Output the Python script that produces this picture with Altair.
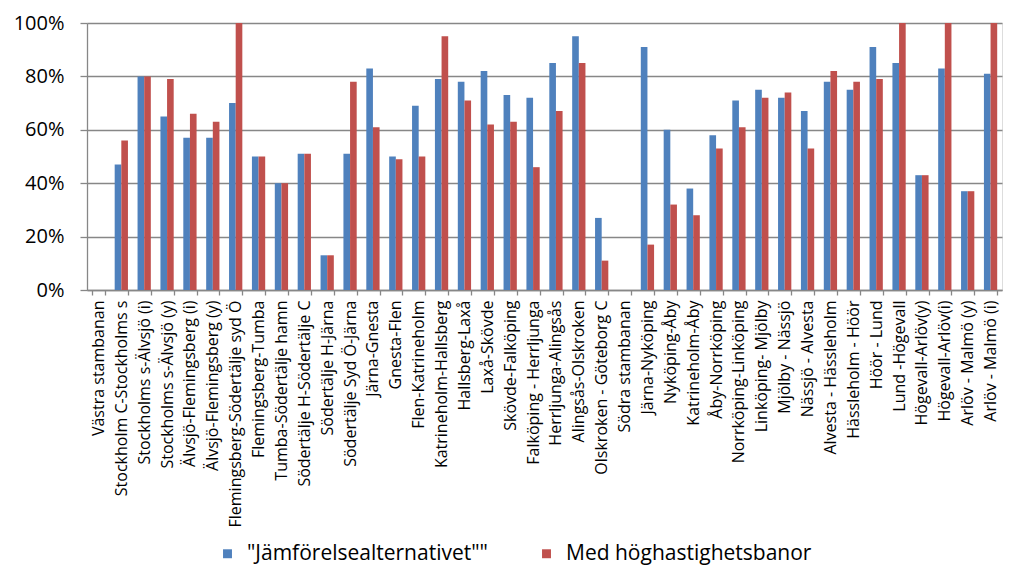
import altair as alt
import pandas as pd

categories = [
    "Västra stambanan", "Stockholm C-Stockholms s", "Stockholms s-Älvsjö (i)",
    "Stockholms s-Älvsjö (y)", "Älvsjö-Flemingsberg (i)", "Älvsjö-Flemingsberg (y)",
    "Flemingsberg-Södertälje syd Ö", "Flemingsberg-Tumba", "Tumba-Södertälje hamn",
    "Södertälje H-Södertälje C", "Södertälje H-Järna", "Södertälje Syd Ö-Järna",
    "Järna-Gnesta", "Gnesta-Flen", "Flen-Katrineholm", "Katrineholm-Hallsberg",
    "Hallsberg-Laxå", "Laxå-Skövde", "Skövde-Falköping", "Falköping - Herrljunga",
    "Herrljunga-Alingsås", "Alingsås-Olskroken", "Olskroken - Göteborg C",
    "Södra stambanan", "Järna-Nyköping", "Nyköping-Åby", "Katrineholm-Åby",
    "Åby-Norrköping", "Norrköping-Linköping", "Linköping- Mjölby", "Mjölby - Nässjö",
    "Nässjö - Alvesta", "Alvesta - Hässleholm", "Hässleholm - Höör", "Höör - Lund",
    "Lund -Högevall", "Högevall-Arlöv(y)", "Högevall-Arlöv(i)", "Arlöv - Malmö (y)",
    "Arlöv - Malmö (i)",
]

series_names = ['"Jämförelsealternativet""', "Med höghastighetsbanor"]

jamforelse = [
    None, 0.47, 0.80, 0.65, 0.57, 0.57, 0.70, 0.50, 0.40, 0.51,
    0.13, 0.51, 0.83, 0.50, 0.69, 0.79, 0.78, 0.82, 0.73, 0.72,
    0.85, 0.95, 0.27, None, 0.91, 0.60, 0.38, 0.58, 0.71, 0.75,
    0.72, 0.67, 0.78, 0.75, 0.91, 0.85, 0.43, 0.83, 0.37, 0.81,
]

hoghastighet = [
    None, 0.56, 0.80, 0.79, 0.66, 0.63, 1.00, 0.50, 0.40, 0.51,
    0.13, 0.78, 0.61, 0.49, 0.50, 0.95, 0.71, 0.62, 0.63, 0.46,
    0.67, 0.85, 0.11, None, 0.17, 0.32, 0.28, 0.53, 0.61, 0.72,
    0.74, 0.53, 0.82, 0.78, 0.79, 1.00, 0.43, 1.00, 0.37, 1.00,
]

colors = ["#4F81BD", "#C0504D"]

rows = []
for c, a, b in zip(categories, jamforelse, hoghastighet):
    rows.append({"kategori": c, "serie": series_names[0], "varde": a})
    rows.append({"kategori": c, "serie": series_names[1], "varde": b})
df = pd.DataFrame(rows)

FONT = "Open Sans"
GRAY = "#878787"

chart = (
    alt.Chart(df)
    .mark_bar()
    .encode(
        x=alt.X(
            "kategori:N",
            scale=alt.Scale(domain=categories, paddingInner=0.42, paddingOuter=0.21),
            axis=alt.Axis(
                title=None,
                labelAngle=-90,
                labelAlign="right",
                labelBaseline="middle",
                labelFont=FONT,
                labelFontSize=16,
                labelColor="#000000",
                labelPadding=5,
                labelLimit=400,
                tickBand="extent",
                tickSize=5,
                tickColor=GRAY,
                tickWidth=1.3,
                domainColor=GRAY,
                domainWidth=1.3,
                grid=False,
                labelOverlap=False,
            ),
        ),
        xOffset=alt.XOffset("serie:N", sort=series_names, scale=alt.Scale(paddingInner=0, paddingOuter=0)),
        y=alt.Y(
            "varde:Q",
            scale=alt.Scale(domain=[0, 1], nice=False),
            axis=alt.Axis(
                title=None,
                format=".0%",
                values=[0, 0.2, 0.4, 0.6, 0.8, 1.0],
                labelFont=FONT,
                labelFontSize=20,
                labelColor="#000000",
                labelPadding=16,
                tickSize=7,
                tickColor=GRAY,
                tickWidth=1.3,
                domainColor=GRAY,
                domainWidth=1.3,
                grid=True,
                gridColor=GRAY,
                gridWidth=1.3,
            ),
        ),
        color=alt.Color(
            "serie:N",
            scale=alt.Scale(domain=series_names, range=colors),
            legend=alt.Legend(
                title=None,
                orient="none",
                direction="horizontal",
                legendX=130,
                legendY=520,
                symbolType="square",
                symbolSize=80,
                symbolStrokeWidth=0,
                labelFont=FONT,
                labelFontSize=21,
                labelColor="#000000",
                labelOffset=9,
                columnPadding=48,
                labelLimit=400,
            ),
        ),
    )
    .properties(width=915, height=267)
    .configure_view(stroke=None)
    .configure(background="white", padding={"left": 5, "top": 5, "right": 5, "bottom": 5})
)

chart.save("out.html", embed_options={"renderer": "svg", "actions": False})
